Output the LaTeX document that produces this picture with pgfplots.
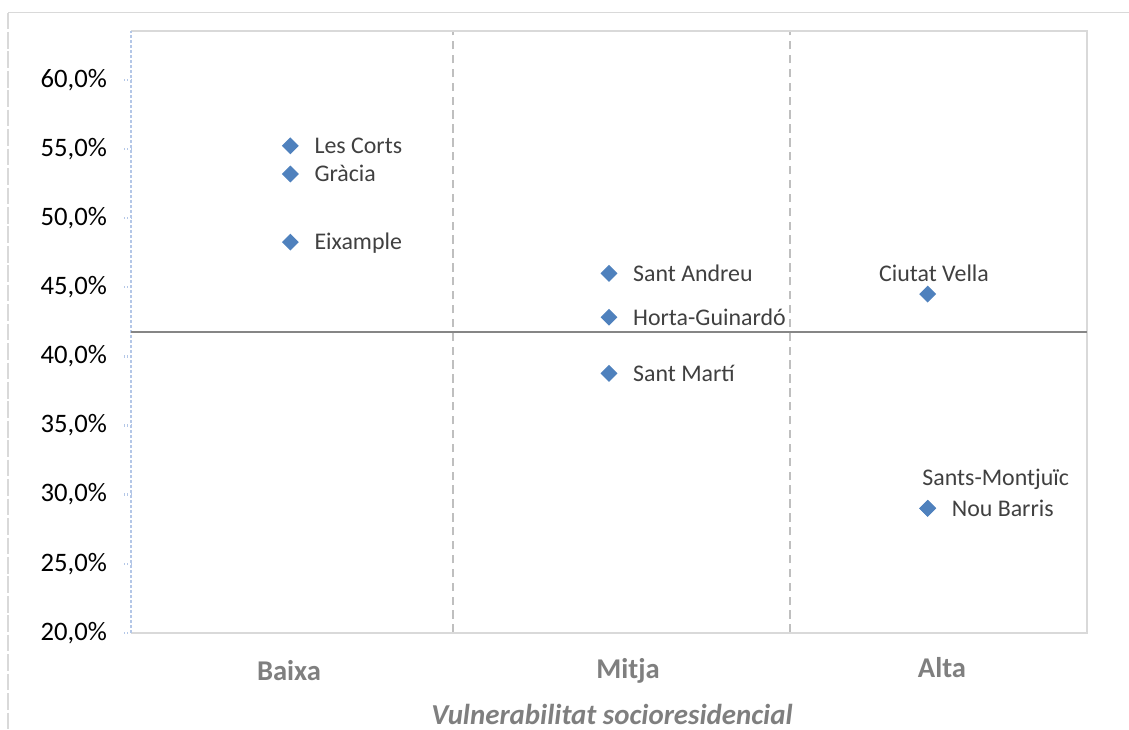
\documentclass[border=0pt]{standalone}
\usepackage{fontspec}
\setmainfont{Carlito}
\usepackage{pgfplots}
\pgfplotsset{compat=1.18}
\definecolor{mk}{RGB}{79,129,189}
\definecolor{lbl}{RGB}{64,64,64}
\definecolor{cat}{RGB}{127,127,127}
\definecolor{frm}{RGB}{217,217,217}
\definecolor{dv}{RGB}{191,191,191}
\definecolor{tk}{RGB}{180,199,231}
\definecolor{hl}{RGB}{134,134,134}

\begin{document}
\begin{tikzpicture}
% pixel grid of the reference (1 px = 0.36pt), origin top left
\begin{scope}[x=0.36pt,y=-0.36pt]
  \path[use as bounding box] (0,0) rectangle (1129,729);
  \draw[frm, line width=0.6pt] (8,12.5) -- (1129,12.5);
  \draw[frm, line width=0.8pt, dash pattern=on 6pt off 1pt] (8,12.5) -- (8,729);
  \node[anchor=base, text=cat, font=\fontsize{10.3}{12}\selectfont\bfseries] at (289,680) {Baixa};
  \node[anchor=base, text=cat, font=\fontsize{10.3}{12}\selectfont\bfseries] at (628,678) {Mitja};
  \node[anchor=base, text=cat, font=\fontsize{10.3}{12}\selectfont\bfseries] at (942,677) {Alta};
  \node[anchor=base, text=cat, font=\fontsize{10.4}{12}\selectfont\bfseries\itshape] at (612,724) {Vulnerabilitat socioresidencial};
\end{scope}
\begin{axis}[
  at={(47.16pt,-227.77pt)}, anchor=south west,
  scale only axis, width=344.16pt, height=216.6pt,
  xmin=0.5, xmax=3.5, ymin=20, ymax=63.55,
  xtick=\empty, ytick={20,25,...,60},
  axis line style={draw=none},
  tick pos=left,
  tick align=outside, major tick length=2.5pt,
  ytick style={draw=tk, densely dotted, line width=0.8pt},
  yticklabel={\pgfmathprintnumber[fixed,fixed zerofill,precision=1,use comma,assume math mode=true]{\tick}\%},
  yticklabel style={font=\fontsize{9.6}{11}\selectfont, text=black, inner sep=0pt, xshift=-6pt},
  clip=false,
]
\draw[dv, line width=0.6pt, dash pattern=on 3pt off 2pt] (axis cs:1.51,20) -- (axis cs:1.51,63.55);
\draw[dv, line width=0.6pt, dash pattern=on 3pt off 2pt] (axis cs:2.567,20) -- (axis cs:2.567,63.55);
\draw[frm, line width=0.8pt] (rel axis cs:0,1) -- (rel axis cs:1,1) -- (rel axis cs:1,0) -- (rel axis cs:0,0);
\draw[tk, densely dotted, line width=0.8pt] (rel axis cs:0,0) -- (rel axis cs:0,1);
\draw[hl, line width=0.7pt] (axis cs:0.5,41.78) -- (axis cs:3.5,41.78);

\addplot[only marks, mark=square*, mark size=1.95pt, mark options={rotate=45, fill=mk, draw=mk},
  nodes near coords, point meta=explicit symbolic,
  every node near coord/.append style={anchor=base west, xshift=8.5pt, yshift=-2.8pt, inner sep=0pt, text=lbl, font=\fontsize{8.6}{10}\selectfont}]
coordinates {(1,55.24)[Les Corts] (1,53.2)[Gràcia] (1,48.27)[Eixample]
  (2,46.01)[Sant Andreu] (2,42.83)[Horta-Guinardó] (2,38.77)[Sant Martí]
  (3,29.0)[Nou Barris]};
\addplot[only marks, mark=square*, mark size=1.95pt, mark options={rotate=45, fill=mk, draw=mk},
  nodes near coords, point meta=explicit symbolic,
  every node near coord/.append style={anchor=base, xshift=2.3pt, yshift=4.7pt, inner sep=0pt, text=lbl, font=\fontsize{8.6}{10}\selectfont}]
coordinates {(3,44.51)[Ciutat Vella]};
\addplot[only marks, mark=square*, mark size=1.95pt, mark options={rotate=45, fill=mk, draw=mk},
  nodes near coords, point meta=explicit symbolic,
  every node near coord/.append style={anchor=base, xshift=24.5pt, yshift=8.4pt, inner sep=0pt, text=lbl, font=\fontsize{8.6}{10}\selectfont}]
coordinates {(3,29.0)[Sants-Montjuïc]};
\end{axis}
\end{tikzpicture}
\end{document}
